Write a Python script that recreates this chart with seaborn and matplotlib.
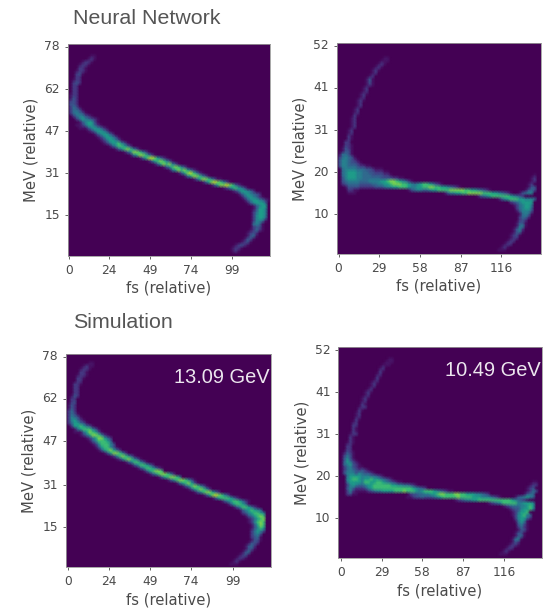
import numpy as np
import seaborn as sns
import matplotlib
matplotlib.use("Agg")
import matplotlib.pyplot as plt

sns.set_style("white")
plt.rcParams['font.family'] = ['DejaVu Sans']

# (row, first column, intensity digits 0-9)
nn_13 = [(4,8,"11"),(5,7,"121"),(6,5,"1221"),(7,4,"1221"),(8,4,"221"),(9,3,"1221"),(10,3,"231"),(11,3,"22"),
 (12,2,"122"),(13,2,"232"),(14,2,"22"),(15,2,"22"),(16,2,"22"),(17,1,"122"),(18,1,"132"),(19,1,"232"),
 (20,1,"332"),(21,1,"2431"),(22,1,"24431"),(23,1,"245431"),(24,2,"2455321"),(25,3,"24654321"),
 (26,4,"1356631"),(27,3,"112466421"),(28,4,"1113565421"),(29,7,"12466531"),(30,9,"1356642"),
 (31,10,"12466531"),(32,11,"12466531"),(33,12,"124667531"),(34,14,"13577642"),(35,16,"135787531"),
 (36,19,"135887531"),(37,21,"146887531"),(38,24,"1368986421"),(39,27,"136787531"),(40,29,"136878531"),
 (41,32,"135787531"),(42,34,"1468786421"),(43,37,"136897521"),(44,39,"146887531"),(45,42,"1368875311"),
 (46,45,"1368987531"),(47,48,"13688987421"),(48,52,"124676531"),(49,55,"12466542"),(50,57,"13565432"),
 (51,58,"13565421"),(52,59,"135665421"),(53,60,"1356664"),(54,62,"13566"),(55,62,"13665"),
 (56,62,"24665"),(57,62,"25665"),(58,62,"25664"),(59,62,"25541"),(60,62,"4541"),(61,62,"2331"),
 (62,61,"12421"),(63,60,"1232"),(64,60,"1341"),(65,59,"1331"),(66,58,"1231"),(67,56,"12321"),
 (68,55,"1221"),(69,55,"121")]

nn_10 = [(5,16,"11"),(6,15,"111"),(7,14,"121"),(8,13,"121"),(9,12,"121"),(10,12,"12"),(11,11,"12"),
 (12,10,"131"),(13,10,"131"),(14,10,"121"),(15,9,"12"),(16,9,"12"),(17,8,"121"),(18,8,"12"),(19,7,"121"),
 (20,7,"12"),(21,7,"12"),(22,6,"12"),(23,6,"12"),(24,6,"21"),(25,5,"12"),(26,5,"12"),(27,5,"12"),(28,5,"12"),
 (29,4,"12"),(30,4,"12"),(31,4,"21"),(32,4,"21"),(33,3,"22"),(34,3,"221"),(35,2,"1321"),(36,2,"1331"),
 (37,1,"14431"),(38,1,"245431"),(39,1,"3554321"),(40,1,"35543321"),(41,1,"35544432211"),
 (42,2,"45555444332111"),(43,2,"4566655443322211"),(44,2,"45666554443333221"),
 (45,2,"356665544444433332211"),(46,2,"345555444555566788765421"),
 (47,2,"2344443333445566788877654567765321"),(48,3,"133332222233345566777655667788776654321"),
 (49,4,"2211"),(49,24,"1345544566777788888776654321"),(50,4,"111"),(50,36,"13556677888887776654321"),
 (51,47,"1345677777765432"),(52,54,"1356777665554"),(53,58,"23456666"),
 (44,66,"1"),(45,65,"12"),(46,65,"12"),(47,64,"12"),(48,64,"133"),(49,63,"1343"),(50,61,"13455"),
 (54,59,"1245665"),(55,60,"245664"),(56,60,"135553"),(57,61,"14541"),(58,61,"2442"),(59,61,"232"),
 (60,60,"1331"),(61,60,"1451"),(62,59,"1352"),(63,59,"1341"),(64,58,"1231"),(65,58,"122"),(66,57,"122"),
 (67,56,"122"),(68,55,"121"),(69,54,"111")]

sim_13 = [(3,8,"11"),(4,6,"1211"),(5,5,"1221"),(6,5,"221"),(7,4,"1221"),(8,4,"221"),(9,4,"22"),(10,3,"221"),
 (11,3,"22"),(12,3,"22"),(13,3,"22"),(14,2,"132"),(15,2,"22"),(16,2,"23"),(17,1,"132"),(18,1,"132"),
 (19,1,"242"),(20,1,"2431"),(21,1,"25431"),(22,1,"256421"),(23,1,"2466431"),(24,2,"26676431"),
 (25,3,"146777531"),(26,3,"1114687631"),(27,5,"1246887521"),(28,7,"124688642"),(29,8,"13577764"),
 (30,9,"12577753"),(31,10,"13677531"),(32,11,"13678642"),(33,13,"13688752"),(34,15,"125787531"),
 (35,17,"125787531"),(36,20,"13577531"),(37,22,"13577642"),(38,24,"135776421"),(39,26,"1367887"),
 (40,28,"135788752"),(41,31,"13678875"),(42,34,"1357887531"),(43,37,"14678631"),(44,39,"135787531"),
 (45,41,"13678752"),(46,43,"135788642"),(47,46,"1368987531"),(48,49,"1367776421"),(49,52,"1356776421"),
 (50,54,"13677641"),(51,56,"135776421"),(52,58,"13567654"),(53,59,"23567765"),(54,60,"1346787"),
 (55,61,"124678"),(56,61,"125787"),(57,62,"13687"),(58,62,"13576"),(59,62,"24653"),(60,62,"2453"),
 (61,62,"2341"),(62,62,"1331"),(63,61,"1332"),(64,60,"1342"),(65,60,"1331"),(66,59,"1341"),(67,58,"1231"),
 (68,57,"1221"),(69,56,"121"),(70,55,"111")]

sim_10 = [(4,17,"11"),(5,16,"111"),(6,15,"111"),(7,14,"12"),(8,14,"21"),(9,13,"12"),(10,13,"21"),(11,12,"12"),
 (12,11,"121"),(13,11,"12"),(14,10,"12"),(15,9,"121"),(16,9,"12"),(17,8,"121"),(18,8,"12"),(19,8,"21"),
 (20,7,"122"),(21,7,"21"),(22,6,"12"),(23,6,"12"),(24,6,"21"),(25,5,"12"),(26,5,"22"),(27,5,"21"),(28,5,"21"),
 (29,4,"122"),(30,4,"21"),(31,4,"21"),(32,3,"121"),(33,3,"22"),(34,3,"22"),(35,2,"1321"),(36,2,"2431"),
 (37,2,"3531"),(38,2,"36421"),(39,2,"456321"),(40,2,"2453211"),(41,2,"245432321"),(42,2,"35553543321"),
 (43,3,"4666655544321"),(44,3,"5677656676654321"),(45,3,"4666657766776543211"),
 (46,3,"256544566777777665544321"),(47,3,"354222356777777777777765432"),
 (48,3,"252111123455666677787776567776543211"),(49,3,"2311",),(49,24,"233445566788777887766655432"),
 (50,23,"11233433345677777877776665554321"),(51,39,"1234556677777777777654321"),
 (52,50,"1234577777556665"),(53,55,"12344455676"),(54,57,"123356675"),
 (45,65,"11"),(46,64,"122"),(47,63,"123"),(48,63,"1243"),(49,62,"1344"),(50,59,"1345654"),
 (55,58,"124667"),(56,58,"1256754"),(57,59,"256642"),(58,59,"14651"),(59,60,"3531"),(60,60,"2421"),
 (61,60,"1331"),(62,59,"1331"),(63,59,"1341"),(64,58,"1451"),(65,58,"132"),(66,57,"1221"),(67,56,"122"),
 (68,55,"121"),(69,54,"111")]

# what each digit stands for on the colour scale
digit_level = [0.0, 0.05, 0.16, 0.25, 0.34, 0.43, 0.55, 0.68, 0.80, 0.90]

x_labels_13 = ["0", "24", "49", "74", "99"]
x_labels_10 = ["0", "29", "58", "87", "116"]
y_labels_13 = ["78", "62", "47", "31", "15"]
y_labels_10 = ["52", "41", "31", "20", "10"]

panels = [
    # strips, axes box (left, top, width, height in px), x ticks, y ticks, x labels, y labels, note
    (nn_13, (67.5, 44.3, 202.5, 211.7), [0.4, 13.9, 27.4, 41.0, 54.9], [0.8, 14.9, 28.9, 43.0, 57.0], x_labels_13, y_labels_13, None),
    (nn_10, (336.7, 43.3, 204, 210.7), [0.6, 14.2, 27.8, 41.3, 54.9], [0.8, 14.8, 28.9, 42.9, 57.0], x_labels_10, y_labels_10, None),
    (sim_13, (65.7, 354.3, 204.9, 213), [0.8, 14.4, 28.1, 41.8, 55.6], [0.8, 14.9, 29.0, 43.6, 57.7], x_labels_13, y_labels_13, "13.09 GeV"),
    (sim_10, (338.3, 347.3, 203.4, 211), [0.8, 14.4, 28.0, 41.7, 55.3], [0.9, 14.9, 29.0, 42.9, 57.0], x_labels_10, y_labels_10, "10.49 GeV"),
]

W, H = 551, 612
fig = plt.figure(figsize=(W / 100, H / 100), dpi=100)
ink = "#4a4a4a"
for strips, (l, t, w, h), xt, yt, xl, yl, note in panels:
    ax = fig.add_axes([l / W, 1 - (t + h) / H, w / W, h / H], facecolor=plt.get_cmap("viridis")(0.0))
    grid = np.zeros((73, 70))
    for row, col, digits in strips:
        vals = np.array([digit_level[int(d)] for d in digits])
        end = min(col + len(vals), grid.shape[1])
        grid[row, col:end] = np.maximum(grid[row, col:end], vals[:end - col])
    sns.heatmap(grid, ax=ax, cmap="viridis", vmin=0, vmax=1, cbar=False, shading="gouraud")
    ax.set_xlim(0, w / 3)
    ax.set_ylim(h / 3, 0)
    ax.set_xticks(xt, xl, rotation=0)
    ax.set_yticks(yt, yl, rotation=0)
    ax.tick_params(length=2.5, width=0.6, labelsize=8.8, colors=ink, pad=3,
                   bottom=True, left=True)
    ax.set_xlabel("fs (relative)", fontsize=10.6, color=ink, labelpad=3)
    ax.set_ylabel("MeV (relative)", fontsize=10.6, color=ink, labelpad=4)
    for s in ax.spines.values():
        s.set_visible(True)
        s.set_color("#999999")
        s.set_linewidth(0.6)
    if note:
        ax.text(0.995, 0.892, note, transform=ax.transAxes, ha="right", va="center",
                color="#ece6ee", fontsize=14.4, family="Liberation Sans")

fig.text(73 / W, 1 - 18 / H, "Neural Network", fontsize=15.4, color="#555555",
         family="Liberation Sans", va="center")
fig.text(73 / W, 1 - 322 / H, "Simulation", fontsize=15.4, color="#555555",
         family="Liberation Sans", va="center")
fig.savefig("out.png", dpi=100)
